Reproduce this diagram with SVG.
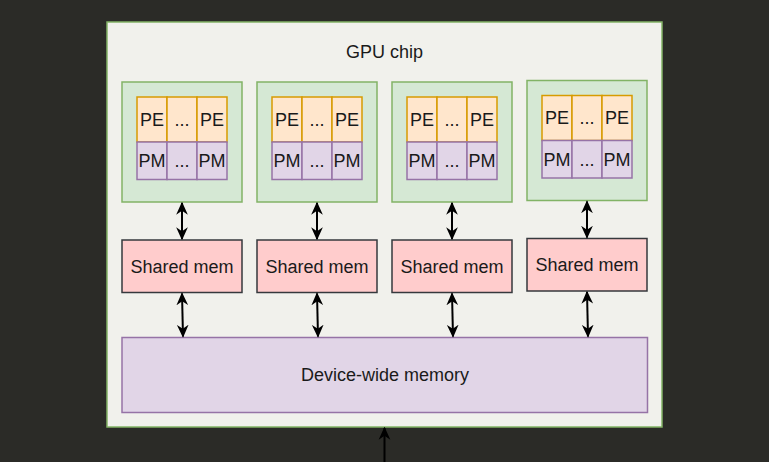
<svg xmlns="http://www.w3.org/2000/svg" width="769" height="462" viewBox="0 0 769 462">
<style>
text{font-family:"Liberation Sans",Arial,sans-serif;font-size:18px;fill:#1a1a1a;text-anchor:middle;dominant-baseline:central}
.chip{fill:#f1f1ec;stroke:#82b366;stroke-width:1.5}
.sm{fill:#d5e8d4;stroke:#82b366;stroke-width:1.5}
.pe{fill:#ffe6cc;stroke:#d79b00;stroke-width:1.5}
.pm{fill:#e1d5e7;stroke:#9673a6;stroke-width:1.5}
.sh{fill:#ffcccc;stroke:#36393d;stroke-width:1.5}
.dev{fill:#e1d5e7;stroke:#9673a6;stroke-width:1.5}
.c{fill:none;stroke:#000;stroke-width:2;marker-start:url(#a);marker-end:url(#a)}
.c1{fill:none;stroke:#000;stroke-width:2;marker-end:url(#a)}
</style>
<defs>
<marker id="a" viewBox="0 0 10 10" refX="9" refY="5" markerWidth="13" markerHeight="13" markerUnits="userSpaceOnUse" orient="auto-start-reverse">
<path d="M0,0.5 L10,5 L0,9.5 L3,5 Z" fill="#000"/>
</marker>
</defs>
<rect width="769" height="462" fill="#2b2b27"/>
<g id="chip">
<rect class="chip" x="107" y="22" width="555" height="405"/>
<text x="384.5" y="52">GPU chip</text>
</g>
<g id="sm1">
<rect class="sm" x="122" y="82" width="120" height="120"/>
<rect class="pe" x="137" y="97" width="30" height="45"/><rect class="pe" x="167" y="97" width="30" height="45"/><rect class="pe" x="197" y="97" width="30" height="45"/>
<rect class="pm" x="137" y="142" width="30" height="37.5"/><rect class="pm" x="167" y="142" width="30" height="37.5"/><rect class="pm" x="197" y="142" width="30" height="37.5"/>
<text x="152" y="119.5">PE</text><text x="182" y="119.5">...</text><text x="212" y="119.5">PE</text>
<text x="152" y="161">PM</text><text x="182" y="161">...</text><text x="212" y="161">PM</text>
</g>
<g id="sm2">
<rect class="sm" x="257" y="82" width="120" height="120"/>
<rect class="pe" x="272" y="97" width="30" height="45"/><rect class="pe" x="302" y="97" width="30" height="45"/><rect class="pe" x="332" y="97" width="30" height="45"/>
<rect class="pm" x="272" y="142" width="30" height="37.5"/><rect class="pm" x="302" y="142" width="30" height="37.5"/><rect class="pm" x="332" y="142" width="30" height="37.5"/>
<text x="287" y="119.5">PE</text><text x="317" y="119.5">...</text><text x="347" y="119.5">PE</text>
<text x="287" y="161">PM</text><text x="317" y="161">...</text><text x="347" y="161">PM</text>
</g>
<g id="sm3">
<rect class="sm" x="392" y="82" width="120" height="120"/>
<rect class="pe" x="407" y="97" width="30" height="45"/><rect class="pe" x="437" y="97" width="30" height="45"/><rect class="pe" x="467" y="97" width="30" height="45"/>
<rect class="pm" x="407" y="142" width="30" height="37.5"/><rect class="pm" x="437" y="142" width="30" height="37.5"/><rect class="pm" x="467" y="142" width="30" height="37.5"/>
<text x="422" y="119.5">PE</text><text x="452" y="119.5">...</text><text x="482" y="119.5">PE</text>
<text x="422" y="161">PM</text><text x="452" y="161">...</text><text x="482" y="161">PM</text>
</g>
<g id="sm4">
<rect class="sm" x="527" y="80.5" width="120" height="120"/>
<rect class="pe" x="542" y="95.5" width="30" height="45"/><rect class="pe" x="572" y="95.5" width="30" height="45"/><rect class="pe" x="602" y="95.5" width="30" height="45"/>
<rect class="pm" x="542" y="140.5" width="30" height="37.5"/><rect class="pm" x="572" y="140.5" width="30" height="37.5"/><rect class="pm" x="602" y="140.5" width="30" height="37.5"/>
<text x="557" y="118">PE</text><text x="587" y="118">...</text><text x="617" y="118">PE</text>
<text x="557" y="159.5">PM</text><text x="587" y="159.5">...</text><text x="617" y="159.5">PM</text>
</g>
<g id="shared1"><rect class="sh" x="122" y="240" width="120" height="52.5"/><text x="182" y="266.5">Shared mem</text></g>
<g id="shared2"><rect class="sh" x="257" y="240" width="120" height="52.5"/><text x="317" y="266.5">Shared mem</text></g>
<g id="shared3"><rect class="sh" x="392" y="240" width="120" height="52.5"/><text x="452" y="266.5">Shared mem</text></g>
<g id="shared4"><rect class="sh" x="527" y="238.5" width="120" height="52.5"/><text x="587" y="265">Shared mem</text></g>
<g id="device"><rect class="dev" x="122" y="337.5" width="525.5" height="75"/><text x="385" y="375">Device-wide memory</text></g>
<g id="connectors">
<path class="c" d="M182,203 L182,239"/>
<path class="c" d="M317,203 L317,239"/>
<path class="c" d="M452,203 L452,239"/>
<path class="c" d="M587,201.5 L587,237.5"/>
<path class="c" d="M182,293.5 L183,336.5"/>
<path class="c" d="M317,293.5 L318,336.5"/>
<path class="c" d="M452,293.5 L453,336.5"/>
<path class="c" d="M587,292 L588,336.5"/>
<path class="c1" d="M384.5,470 L384.5,428"/>
</g>
</svg>
